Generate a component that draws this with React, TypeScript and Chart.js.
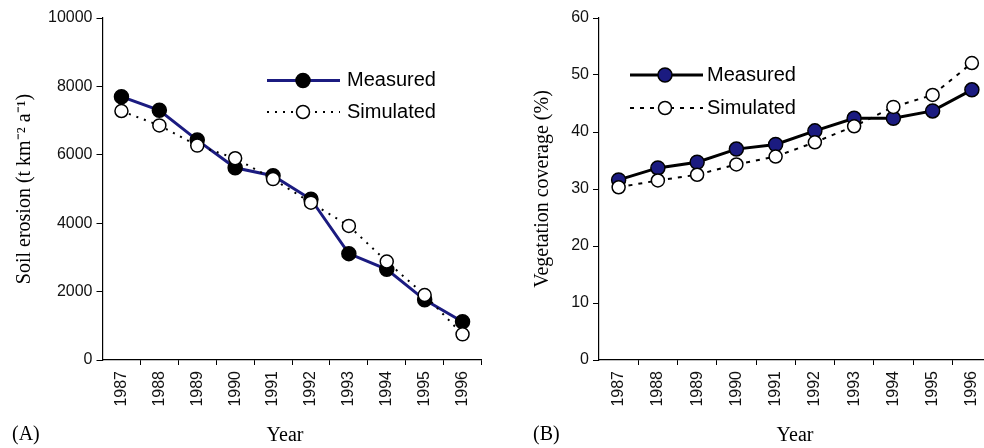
import React, { useEffect, useRef } from "react";
import { Chart, registerables } from "chart.js";

Chart.register(...registerables);

const years = ["1987", "1988", "1989", "1990", "1991", "1992", "1993", "1994", "1995", "1996"];

const erosionMeasured = [7700, 7300, 6430, 5620, 5390, 4700, 3110, 2650, 1760, 1120];
const erosionSimulated = [7280, 6860, 6270, 5900, 5290, 4600, 3920, 2880, 1900, 750];

const vegMeasured = [31.6, 33.7, 34.7, 37.0, 37.8, 40.2, 42.4, 42.4, 43.7, 47.4];
const vegSimulated = [30.3, 31.5, 32.5, 34.3, 35.7, 38.2, 41.0, 44.4, 46.5, 52.1];

const erosionAxis = { min: 0, max: 10000, step: 2000 };
const vegAxis = { min: 0, max: 60, step: 10 };

const seriesNames = ["Measured", "Simulated"];

const NAVY = "#1b1b80";
const SANS = "'Liberation Sans', Arial, sans-serif";
const SERIF = "'Liberation Serif', 'Times New Roman', serif";

type PanelCfg = {
  measured: number[];
  simulated: number[];
  axis: { min: number; max: number; step: number };
  yTitle: string;
  yTitlePad: number;
  axisWidth: number;
  padRight: number;
  lineColor: string;
  markerFill: string;
  simDash: number[];
  legend: { x0: number; x1: number; mx: number; tx: number; y1: number; y2: number };
  label: string;
  labelX: number;
  yearX: number;
  width: number;
};

function makeAnnotPlugin(p: PanelCfg) {
  return {
    id: "annot",
    afterDraw(chart: any) {
      const ctx = chart.ctx as CanvasRenderingContext2D;
      const L = p.legend;
      ctx.save();
      // Measured legend entry
      ctx.setLineDash([]);
      ctx.lineWidth = 3;
      ctx.strokeStyle = p.lineColor;
      ctx.beginPath();
      ctx.moveTo(L.x0, L.y1);
      ctx.lineTo(L.x1, L.y1);
      ctx.stroke();
      ctx.beginPath();
      ctx.arc(L.mx, L.y1, 7, 0, Math.PI * 2);
      ctx.fillStyle = p.markerFill;
      ctx.fill();
      ctx.lineWidth = 1.5;
      ctx.strokeStyle = "#000";
      ctx.stroke();
      // Simulated legend entry
      ctx.setLineDash(p.simDash);
      ctx.lineWidth = 2;
      ctx.beginPath();
      ctx.moveTo(L.x0, L.y2);
      ctx.lineTo(L.x1, L.y2);
      ctx.stroke();
      ctx.setLineDash([]);
      ctx.beginPath();
      ctx.arc(L.mx, L.y2, 6.5, 0, Math.PI * 2);
      ctx.fillStyle = "#fff";
      ctx.fill();
      ctx.lineWidth = 1.5;
      ctx.stroke();
      // legend texts
      ctx.fillStyle = "#000";
      ctx.font = `20px ${SANS}`;
      ctx.textAlign = "left";
      ctx.textBaseline = "middle";
      ctx.fillText(seriesNames[0], L.tx, L.y1);
      ctx.fillText(seriesNames[1], L.tx, L.y2);
      // panel label & x title
      ctx.font = `20px ${SERIF}`;
      ctx.fillText(p.label, p.labelX, 435);
      ctx.textAlign = "center";
      ctx.fillText("Year", p.yearX, 436);
      ctx.restore();
    },
  };
}

function Panel({ cfg }: { cfg: PanelCfg }) {
  const ref = useRef<HTMLCanvasElement | null>(null);
  useEffect(() => {
    if (!ref.current) return;
    const chart = new Chart(ref.current, {
      type: "line",
      data: {
        labels: years,
        datasets: [
          {
            label: seriesNames[0],
            data: cfg.measured,
            borderColor: cfg.lineColor,
            borderWidth: 3,
            pointRadius: 7,
            pointBackgroundColor: cfg.markerFill,
            pointBorderColor: "#000",
            pointBorderWidth: 1.5,
            tension: 0,
            order: 1,
          },
          {
            label: seriesNames[1],
            data: cfg.simulated,
            borderColor: "#000",
            borderWidth: 2,
            borderDash: cfg.simDash,
            pointRadius: 6.5,
            pointBackgroundColor: "#fff",
            pointBorderColor: "#000",
            pointBorderWidth: 1.5,
            tension: 0,
            order: 0,
          },
        ],
      },
      options: {
        responsive: false,
        animation: false,
        devicePixelRatio: 1,
        events: [],
        layout: { padding: { top: 18, left: 0, right: cfg.padRight, bottom: 0 } },
        plugins: { legend: { display: false }, tooltip: { enabled: false } },
        scales: {
          x: {
            type: "category",
            offset: true,
            grid: {
              offset: true,
              drawOnChartArea: false,
              drawTicks: true,
              tickLength: 5,
              color: (c: any) => (c.index === 0 ? "rgba(0,0,0,0)" : "#000"),
            },
            border: { display: true, color: "#000", width: 1.2 },
            ticks: {
              autoSkip: false,
              minRotation: 90,
              maxRotation: 90,
              padding: 6,
              color: "#111",
              font: { family: SANS, size: 16 },
            },
            afterFit: (scale: any) => {
              scale.height = 88;
            },
          },
          y: {
            min: cfg.axis.min,
            max: cfg.axis.max,
            grid: { drawOnChartArea: false, drawTicks: true, tickLength: 6, color: "#000" },
            border: { display: true, color: "#000", width: 1.2 },
            ticks: {
              stepSize: cfg.axis.step,
              padding: 4,
              color: "#111",
              font: { family: SANS, size: 16 },
              callback: (v: any) => String(v),
            },
            title: {
              display: true,
              text: cfg.yTitle,
              color: "#000",
              font: { family: SERIF, size: 20 },
              padding: { top: cfg.yTitlePad, bottom: 0 },
            },
            afterFit: (scale: any) => {
              scale.width = cfg.axisWidth;
            },
          },
        },
      },
      plugins: [makeAnnotPlugin(cfg)],
    } as any);
    return () => chart.destroy();
  }, [cfg]);
  return <canvas ref={ref} width={cfg.width} height={448} style={{ display: "block" }} />;
}

const leftCfg: PanelCfg = {
  measured: erosionMeasured,
  simulated: erosionSimulated,
  axis: erosionAxis,
  yTitle: "Soil erosion (t km\u207B\u00B2 a\u207B\u00B9)",
  yTitlePad: 13,
  axisWidth: 102.5,
  padRight: 2.5,
  lineColor: NAVY,
  markerFill: "#000",
  simDash: [2, 6],
  legend: { x0: 267, x1: 340, mx: 303, tx: 347, y1: 80.5, y2: 112 },
  label: "(A)",
  labelX: 12,
  yearX: 285,
  width: 490,
};

const rightCfg: PanelCfg = {
  measured: vegMeasured,
  simulated: vegSimulated,
  axis: vegAxis,
  yTitle: "Vegetation coverage (%)",
  yTitlePad: 41,
  axisWidth: 109,
  padRight: 4.4,
  lineColor: "#000",
  markerFill: NAVY,
  simDash: [4, 6],
  legend: { x0: 140, x1: 213, mx: 175, tx: 217, y1: 75, y2: 108 },
  label: "(B)",
  labelX: 43,
  yearX: 305,
  width: 510,
};

export default function App() {
  return (
    <div
      style={{
        position: "absolute",
        left: 0,
        top: 0,
        width: 984,
        height: 448,
        overflow: "hidden",
        background: "#fff",
      }}
    >
      <div style={{ position: "absolute", left: 0, top: 0 }}>
        <Panel cfg={leftCfg} />
      </div>
      <div style={{ position: "absolute", left: 490, top: 0 }}>
        <Panel cfg={rightCfg} />
      </div>
    </div>
  );
}
